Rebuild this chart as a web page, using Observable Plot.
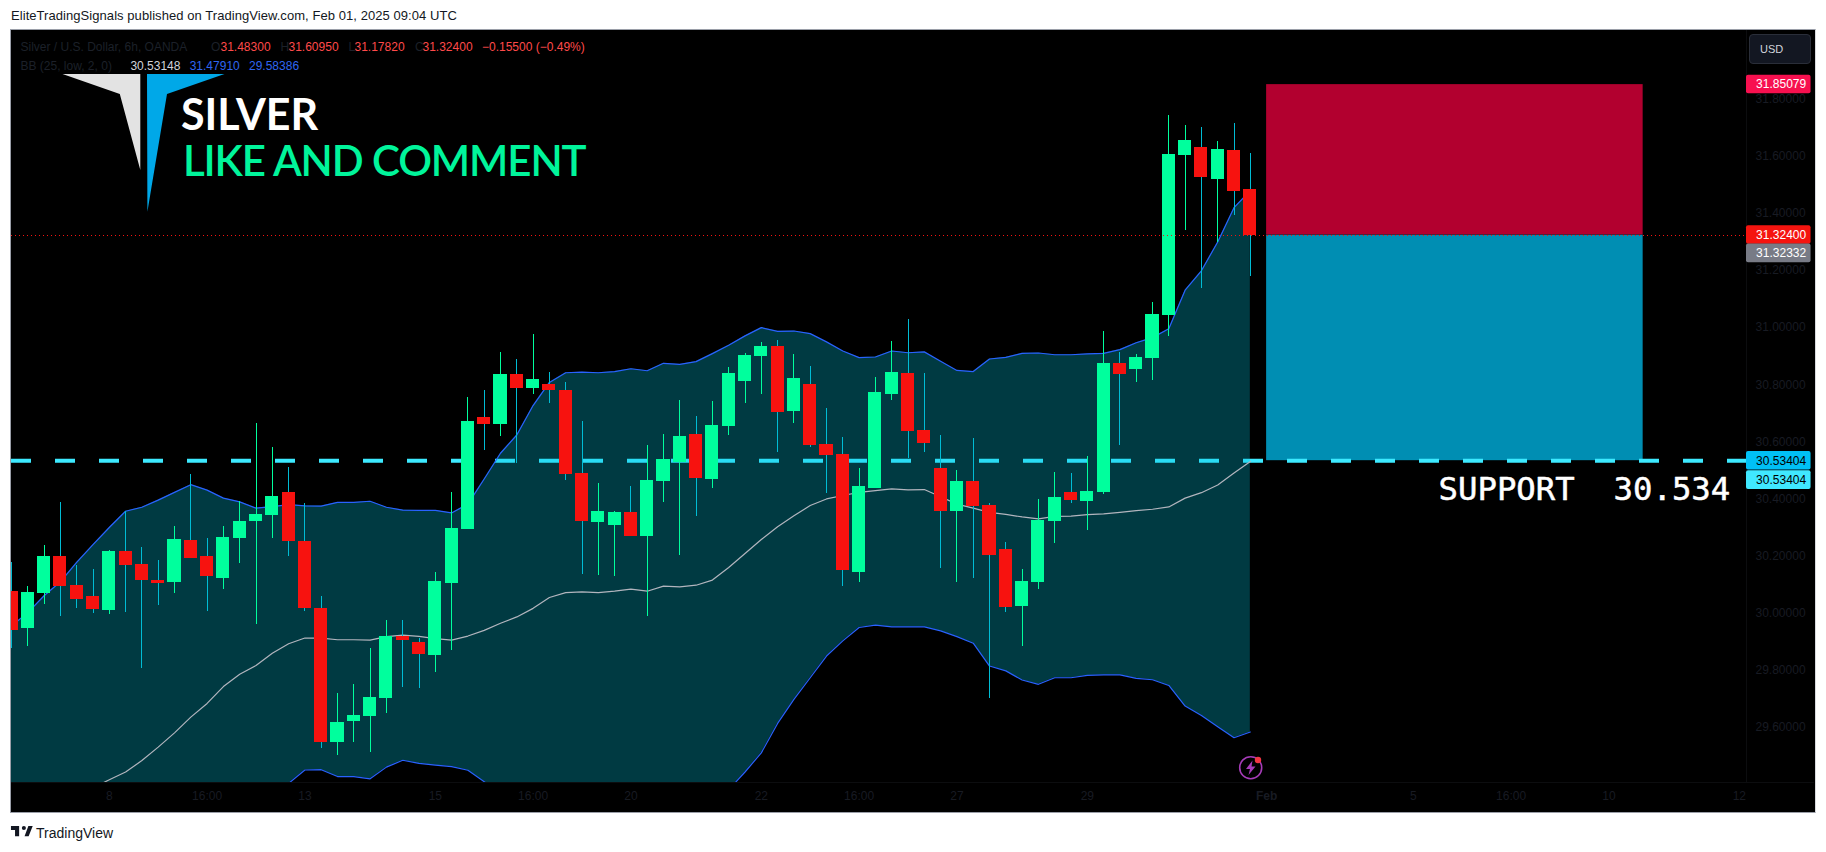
<!DOCTYPE html>
<html><head><meta charset="utf-8">
<script src="https://cdn.jsdelivr.net/npm/d3@7"></script>
<script src="https://cdn.jsdelivr.net/npm/@observablehq/plot@0.6"></script>
<style>
html,body{margin:0;padding:0;background:#fff;width:1826px;height:852px;overflow:hidden}
.t{position:absolute;white-space:pre;font-family:"Liberation Sans",sans-serif;font-size:12px;line-height:14px}
#panel{position:absolute;left:10px;top:29px;width:1804px;height:782px;background:#000;border:1px solid #9a9ea8;border-right-color:#d8d9dd}
#chart{position:absolute;left:0;top:0}
</style></head><body>
<div id="panel"></div>
<div id="chart"></div>
<svg style="position:absolute;left:0;top:0;pointer-events:none" width="1826" height="852">
  <polygon points="62.5,74 140.3,74 140.3,170 119.8,94" fill="#e3e3e3"/>
  <polygon points="147,74 224.5,74 167,94 147.4,211.7" fill="#00a8e8"/>
  <circle cx="1250.7" cy="767.7" r="11" fill="#000" stroke="#a63cb8" stroke-width="1.6"/>
  <path d="M1252.5 760.5 L1246 769 L1250 769 L1248.5 775 L1255.5 766.5 L1251.5 766.5 Z" fill="#a63cb8"/>
  <circle cx="1258" cy="760" r="3.2" fill="#f23645"/>
  <g transform="translate(9.6,821.9) scale(.68)"><path d="M14 6H2v6h6v9h6V6zm14 15h-6l5.6-15H34l-6 15zm-7-9a3 3 0 1 0 0-6 3 3 0 0 0 0 6z" fill="#131722"/></g>
</svg>
<div id="text"></div>
<script>
const opens=[30.075,29.948,30.068,30.198,30.096,30.057,30.008,30.215,30.169,30.113,30.106,30.254,30.198,30.120,30.261,30.320,30.341,30.422,30.250,30.015,29.548,29.622,29.640,29.703,29.920,29.899,29.851,30.103,30.292,30.685,30.661,30.836,30.787,30.801,30.780,30.489,30.317,30.306,30.352,30.268,30.461,30.527,30.626,30.468,30.654,30.812,30.899,30.934,30.706,30.801,30.591,30.555,30.141,30.436,30.766,30.840,30.640,30.506,30.355,30.461,30.377,30.222,30.022,30.106,30.320,30.422,30.391,30.422,30.875,30.854,30.892,31.043,31.601,31.629,31.520,31.619,31.483];
const highs=[30.178,30.092,30.236,30.387,30.166,30.152,30.219,30.355,30.229,30.183,30.303,30.485,30.261,30.303,30.390,30.664,30.580,30.510,30.383,30.057,29.720,29.752,29.875,29.973,29.976,29.910,30.141,30.422,30.755,30.780,30.913,30.889,30.977,30.843,30.808,30.671,30.454,30.355,30.443,30.587,30.626,30.745,30.689,30.741,30.861,30.910,30.948,30.955,30.906,30.864,30.717,30.615,30.506,30.826,30.952,31.029,30.840,30.622,30.499,30.612,30.383,30.247,30.152,30.398,30.492,30.489,30.548,30.987,30.913,30.906,31.089,31.741,31.706,31.699,31.650,31.713,31.6095];
const lows=[29.876,29.882,30.029,29.987,30.015,29.998,29.994,30.001,29.808,30.026,30.068,30.190,30.005,30.082,30.173,29.962,30.261,30.198,30.005,29.527,29.503,29.548,29.513,29.650,29.741,29.738,29.792,29.871,30.292,30.570,30.619,30.524,30.766,30.734,30.464,30.134,30.131,30.127,30.268,29.990,30.387,30.201,30.338,30.436,30.622,30.734,30.766,30.563,30.664,30.580,30.419,30.092,30.106,30.436,30.745,30.541,30.563,30.155,30.106,30.120,29.700,30.001,29.883,30.082,30.243,30.383,30.289,30.415,30.587,30.808,30.815,30.969,31.341,31.138,31.299,31.394,31.178];
const closes=[29.941,30.071,30.198,30.092,30.047,30.012,30.215,30.166,30.113,30.103,30.257,30.190,30.127,30.264,30.320,30.345,30.408,30.250,30.015,29.548,29.619,29.643,29.706,29.920,29.903,29.854,30.110,30.296,30.671,30.661,30.836,30.787,30.819,30.780,30.485,30.320,30.355,30.352,30.268,30.464,30.538,30.619,30.471,30.657,30.840,30.903,30.934,30.703,30.822,30.587,30.552,30.148,30.443,30.773,30.843,30.636,30.594,30.355,30.461,30.373,30.201,30.019,30.110,30.324,30.405,30.394,30.426,30.875,30.836,30.896,31.047,31.605,31.654,31.524,31.622,31.478,31.324];
const bbUpper=[29.955,30.002,30.061,30.110,30.178,30.240,30.300,30.357,30.371,30.396,30.423,30.450,30.431,30.403,30.390,30.368,30.373,30.380,30.376,30.375,30.388,30.388,30.392,30.371,30.361,30.360,30.360,30.351,30.382,30.470,30.560,30.624,30.727,30.808,30.842,30.844,30.842,30.846,30.856,30.849,30.875,30.871,30.881,30.909,30.938,30.971,31.000,30.987,30.988,30.979,30.950,30.918,30.895,30.897,30.918,30.912,30.915,30.882,30.850,30.846,30.890,30.896,30.910,30.911,30.905,30.905,30.908,30.910,30.923,30.947,30.965,30.996,31.131,31.199,31.300,31.420,31.4791];
const bbMiddle=[29.21,29.24,29.27,29.31,29.35,29.388,29.417,29.444,29.484,29.531,29.581,29.636,29.684,29.743,29.786,29.817,29.860,29.893,29.913,29.913,29.907,29.907,29.906,29.918,29.923,29.919,29.911,29.906,29.920,29.940,29.965,29.987,30.017,30.055,30.072,30.075,30.072,30.077,30.084,30.077,30.095,30.092,30.098,30.116,30.160,30.209,30.258,30.303,30.341,30.377,30.400,30.412,30.423,30.429,30.435,30.432,30.433,30.408,30.382,30.368,30.353,30.346,30.337,30.330,30.339,30.340,30.345,30.348,30.353,30.359,30.364,30.372,30.403,30.422,30.449,30.491,30.53148];
const bbLower=[28.465,28.478,28.479,28.51,28.522,28.536,28.534,28.531,28.597,28.666,28.739,28.822,28.937,29.083,29.182,29.266,29.347,29.404,29.451,29.452,29.428,29.428,29.420,29.461,29.485,29.474,29.468,29.463,29.450,29.41,29.37,29.35,29.307,29.302,29.302,29.306,29.302,29.308,29.312,29.305,29.315,29.313,29.315,29.323,29.382,29.444,29.511,29.614,29.698,29.774,29.850,29.903,29.950,29.958,29.952,29.952,29.952,29.938,29.918,29.895,29.815,29.798,29.766,29.751,29.774,29.774,29.782,29.784,29.784,29.772,29.767,29.747,29.675,29.642,29.602,29.564,29.58386];
const priceTicks=[29.6,29.8,30,30.2,30.4,30.6,30.8,31,31.2,31.4,31.6,31.8];
const timeTickAt=[6,12,18,26,32,38,46,52,58,66,86,92,98,106];
const timeTickLabels=["8","16:00","13","15","16:00","20","22","16:00","27","29","5","16:00","10","12"];
const monthTickAt=[77], monthTickLabels=["Feb"];
const lastClose=31.324, entry=31.32332, stopTop=31.85079, support=30.53404;
const zoneFrom=77, zoneTo=100.1;
const tagValues=["31.85079","31.32400","31.32332","30.53404","30.53404"];
const tagRows=[31.851,31.324,31.26,30.534,30.466];
const tagFills=["#f7104f","#f5140f","#787b86","#00c0f5","#40e8ff"];
const tagInks=["#fff","#fff","#fff","#000","#000"];

const candles=opens.map((o,i)=>({i,o,h:highs[i],l:lows[i],c:closes[i],up:closes[i]>=o}));
const bands=bbUpper.map((u,i)=>({i,u,m:bbMiddle[i],d:bbLower[i]}));
const tags=tagValues.map((v,k)=>({v,r:tagRows[k],f:tagFills[k],ink:tagInks[k]}));
const UP="#00ff9d",DOWN="#f7120f",DIM="#181b23";
const lbl=new Map([...timeTickAt.map((t,k)=>[t,timeTickLabels[k]]),[monthTickAt[0],monthTickLabels[0]]]);

const plot=Plot.plot({
  width:1826,height:852,marginLeft:11,marginRight:80,marginTop:30,marginBottom:70,
  style:{background:"transparent",fontFamily:"Liberation Sans, sans-serif",fontSize:"12px"},
  x:{domain:[0,106.44],range:[11,1746],label:null},
  y:{domain:[29.4072,32.0403],range:[782,30],label:null},
  marks:[
    Plot.rect([{a:zoneFrom,b:zoneTo,y1:lastClose,y2:stopTop}],{x1:"a",x2:"b",y1:"y1",y2:"y2",fill:"#b2002f"}),
    Plot.rect([{a:zoneFrom,b:zoneTo,y1:support,y2:entry}],{x1:"a",x2:"b",y1:"y1",y2:"y2",fill:"#008eb3"}),
    Plot.ruleY([support],{stroke:"#3de9ff",strokeWidth:4,strokeDasharray:"20,24"}),
    Plot.areaY(bands,{x:"i",y1:"d",y2:"u",fill:"#00c1dc",fillOpacity:0.3,clip:true}),
    Plot.line(bands,{x:"i",y:"m",stroke:"#b2b5be",strokeWidth:1.2,clip:true}),
    Plot.line(bands,{x:"i",y:"u",stroke:"#2962ff",strokeWidth:1.2,clip:true}),
    Plot.line(bands,{x:"i",y:"d",stroke:"#2962ff",strokeWidth:1.2,clip:true}),
    Plot.ruleX(candles,{x:"i",y1:"l",y2:"h",stroke:d=>d.up?UP:"#00bcd4",strokeWidth:1,shapeRendering:"crispEdges",clip:true}),
    Plot.rect(candles,{x1:d=>d.i-0.4,x2:d=>d.i+0.4,y1:"o",y2:"c",fill:d=>d.up?UP:DOWN,shapeRendering:"crispEdges",clip:true}),
    Plot.ruleY([lastClose],{stroke:"#f7120f",strokeWidth:1,strokeDasharray:"1,3",shapeRendering:"crispEdges"}),
    Plot.ruleX([106.44],{stroke:"#0c0d0f"}),
    Plot.ruleY([29.4072],{x1:0,x2:110.6,stroke:"#0c0d0f"}),
    Plot.axisY({anchor:"right",ticks:priceTicks,tickFormat:d=>d.toFixed(5),tickSize:0,tickPadding:9,fill:DIM}),
    Plot.axisX(timeTickAt,{anchor:"bottom",tickFormat:d=>lbl.get(d),tickSize:0,tickPadding:9,fill:DIM}),
    Plot.axisX(monthTickAt,{anchor:"bottom",tickFormat:d=>lbl.get(d),tickSize:0,tickPadding:9,fill:DIM,fontWeight:"bold"}),
    Plot.rect(tags,{x1:106.44,x2:110.4,y1:d=>d.r-0.0325,y2:d=>d.r+0.0325,fill:"f",rx:2}),
    Plot.text(tags,{x:107.03,y:"r",text:"v",fill:"ink",textAnchor:"start",fontSize:12}),
    Plot.text(["SUPPORT  30.534"],{x:87.55,y:30.433,textAnchor:"start",fill:"#fff",stroke:"#fff",strokeWidth:0.5,fontFamily:"DejaVu Sans Mono",fontSize:32.3})
  ]
});
document.getElementById("chart").append(plot);

const D="#1c2029",R="#ff4a4a",B="#2f66f0";
const items=[
 ["EliteTradingSignals published on TradingView.com, Feb 01, 2025 09:04 UTC",11,9,"#131722",{fontSize:"13px",letterSpacing:"0.06px"}],
 ["Silver / U.S. Dollar, 6h, OANDA",20.5,40,D],["O",211,40,D],["31.48300",220.5,40,R],["H",280.6,40,D],["31.60950",288.5,40,R],["L",348.6,40,D],["31.17820",354.5,40,R],["C",415,40,D],["31.32400",422.5,40,R],["\u22120.15500 (\u22120.49%)",482,40,R],
 ["BB (25, low, 2, 0)",20.5,59,D],["30.53148",130.4,59,"#d1d4dc"],["31.47910",189.7,59,B],["29.58386",249,59,B],
 ["SILVER",181,92,"#fff",{fontFamily:"Lato",fontWeight:"700",fontSize:"43px",lineHeight:"43px"}],
 ["LIKE AND COMMENT",183,139,"#00f59b",{fontFamily:"Lato",fontWeight:"600",fontSize:"42px",lineHeight:"43px",letterSpacing:"-1.1px"}],
 ["TradingView",36,825,"#131722",{fontSize:"14px",lineHeight:"16px"}]
];
const host=document.getElementById("text");
for(const [s,x,y,c,st] of items){
  const e=document.createElement("div");e.className="t";e.textContent=s;
  e.style.left=x+"px";e.style.top=y+"px";e.style.color=c;Object.assign(e.style,st||{});host.append(e);
}
const usd=document.createElement("div");usd.className="t";usd.textContent="USD";
Object.assign(usd.style,{left:"1749px",top:"34px",width:"50px",height:"28px",lineHeight:"28px",paddingLeft:"10px",background:"#131722",border:"1px solid #2a2e39",borderRadius:"4px",color:"#d1d4dc",fontSize:"11px",boxSizing:"content-box"});
host.append(usd);
</script>
</body></html>
